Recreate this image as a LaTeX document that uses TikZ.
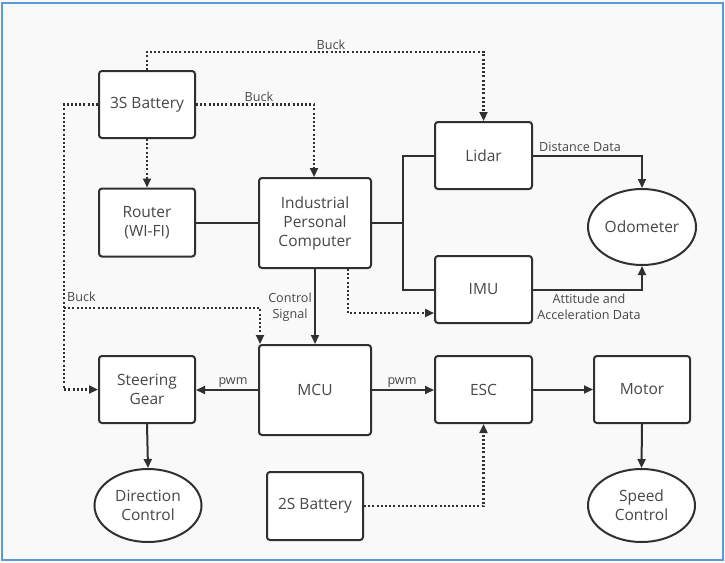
\documentclass[tikz,border=0pt]{standalone}
\usepackage{fontspec}
\setmainfont{Open Sans}
\usetikzlibrary{arrows.meta,shapes.geometric}
\definecolor{ink}{HTML}{303030}
\definecolor{inktext}{HTML}{474747}
\definecolor{frame}{HTML}{5B9BD5}
\definecolor{paper}{HTML}{F9F9F9}
\begin{document}
\begin{tikzpicture}[x=1pt,y=-1pt,
  block/.style={draw=ink,line width=2pt,fill=white,rounded corners=3pt,
    text=inktext,font=\fontsize{15.5}{19}\selectfont,align=center,inner sep=0pt},
  sblock/.style={block,minimum width=96pt,minimum height=67pt},
  bblock/.style={block,minimum width=112pt,minimum height=90pt},
  oval/.style={draw=ink,line width=2pt,fill=white,ellipse,text=inktext,
    font=\fontsize{15.5}{19}\selectfont,align=center,inner sep=0pt,
    minimum width=107pt,minimum height=73pt},
  wire/.style={draw=ink,line width=2pt},
  flow/.style={wire,-{Triangle[length=9pt,width=8pt]}},
  power/.style={draw=ink,line width=2.2pt,dash pattern=on 2pt off 2.2pt,
    -{Triangle[length=9pt,width=8pt]}},
  tag/.style={text=inktext,font=\fontsize{12.6}{15.5}\selectfont,align=center,inner sep=0pt}]

% canvas and frame
\useasboundingbox (0,0) rectangle (725,562);
\fill[paper] (0,0) rectangle (725,562);
\draw[frame,line width=2pt] (2,2.5) rectangle (722.5,560);

% blocks
\node[sblock] (bat3)   at (147,104.5) {3S Battery};
\node[sblock,minimum height=68pt] (router) at (147,222.5) {Router\\(WI-FI)};
\node[bblock] (ipc)    at (315,223)   {Industrial\\Personal\\Computer};
\node[sblock,minimum width=97pt] (lidar) at (483.5,155.5) {Lidar};
\node[sblock,minimum width=97pt] (imu)   at (483.5,289.5) {IMU};
\node[oval,minimum width=108pt,minimum height=76pt] (odo) at (642,227) {Odometer};
\node[sblock] (steer)  at (147,389.5) {Steering\\Gear};
\node[bblock] (mcu)    at (315,390)   {MCU};
\node[sblock,minimum width=97pt] (esc) at (483.5,389.5) {ESC};
\node[sblock] (motor)  at (642,389.5) {Motor};
\node[oval] (dirc)     at (148,505.5) {Direction\\Control};
\node[sblock,minimum height=68pt] (bat2) at (315,506) {2S Battery};
\node[oval] (speed)    at (641.5,505.5) {Speed\\Control};

% bend points
\coordinate (top)  at (147,52);
\coordinate (lbus) at (64,104.5);
\coordinate (bk)   at (64,308);
\coordinate (jn)   at (403,223);

% power (buck) lines
\draw[power] (bat3.north) -- (top) -| (lidar.north);
\draw[power] (bat3.east) -| ([xshift=-1pt]ipc.north);
\draw[power] (bat3.south) -- (router.north);
\draw[power] (bat3.west) -- (lbus) |- (steer.west);
\draw[power] (bk) -| ([xshift=2pt]mcu.north west);
\draw[power] ([xshift=33pt]ipc.south) |- ([yshift=-23.5pt]imu.west);
\draw[power] (bat2.east) -| (esc.south);

% data and control lines
\draw[wire] (router.east) -- (router.east -| ipc.west);
\draw[wire] (ipc.east) -- (jn);
\draw[wire] (lidar.west) -| (jn) |- (imu.west);
\draw[flow] (lidar.east) -| (odo.north);
\draw[flow] (imu.east) -| (odo.south);
\draw[flow] (ipc.south) -- (mcu.north);
\draw[flow] (mcu.west) -- (mcu.west -| steer.east);
\draw[flow] (mcu.east) -- (mcu.east -| esc.west);
\draw[flow] (esc.east) -- (esc.east -| motor.west);
\draw[flow] (steer.south) -- (dirc.north);
\draw[flow] (motor.south) -- (speed.north);

% labels
\node[tag] (l1) at (331,45) {Buck};
\node[tag] (l2) at (259,97) {Buck};
\node[tag,anchor=west] (l3) at (67,297) {Buck};
\node[tag] (l4) at (290,307) {Control\\Signal};
\node[tag] (l5) at (233,383) {pwm};
\node[tag] (l6) at (402,383) {pwm};
\node[tag] (l7) at (580,147) {Distance Data};
\node[tag] (l8) at (589,307) {Attitude and\\Acceleration Data};
\end{tikzpicture}
\end{document}
